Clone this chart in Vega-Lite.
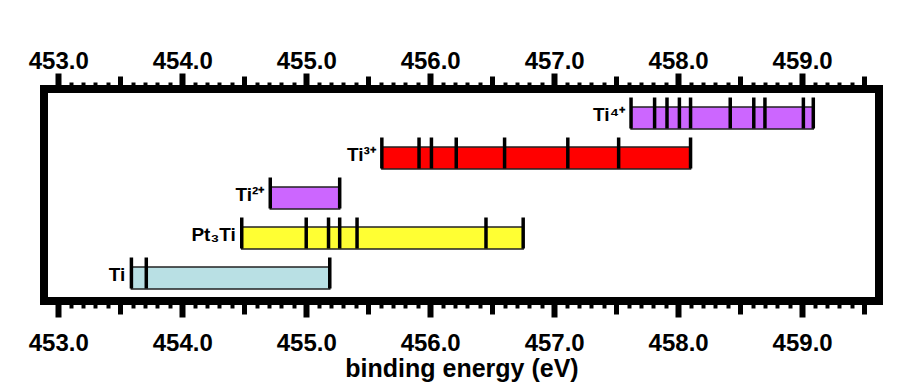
{
  "$schema": "https://vega.github.io/schema/vega-lite/v6.json",
  "autosize": "none",
  "width": 835,
  "height": 212,
  "padding": {"left": 44, "top": 89, "right": 44, "bottom": 82},
  "background": "white",
  "config": {
    "font": "Liberation Sans",
    "view": {"stroke": "black", "strokeWidth": 8},
    "axis": {"grid": false, "domain": false}
  },
  "datasets": {
    "bars": [
      {"species": "Ti⁴⁺", "start": 457.62, "end": 459.09},
      {"species": "Ti³⁺", "start": 455.61, "end": 458.10},
      {"species": "Ti²⁺", "start": 454.71, "end": 455.27},
      {"species": "Pt₃Ti", "start": 454.48, "end": 456.75},
      {"species": "Ti", "start": 453.59, "end": 455.19}
    ],
    "ticks": [
      {"species": "Ti⁴⁺", "energy": 457.62},
      {"species": "Ti⁴⁺", "energy": 457.81},
      {"species": "Ti⁴⁺", "energy": 457.91},
      {"species": "Ti⁴⁺", "energy": 458.01},
      {"species": "Ti⁴⁺", "energy": 458.10},
      {"species": "Ti⁴⁺", "energy": 458.42},
      {"species": "Ti⁴⁺", "energy": 458.61},
      {"species": "Ti⁴⁺", "energy": 458.70},
      {"species": "Ti⁴⁺", "energy": 459.01},
      {"species": "Ti⁴⁺", "energy": 459.09},
      {"species": "Ti³⁺", "energy": 455.61},
      {"species": "Ti³⁺", "energy": 455.91},
      {"species": "Ti³⁺", "energy": 456.01},
      {"species": "Ti³⁺", "energy": 456.21},
      {"species": "Ti³⁺", "energy": 456.60},
      {"species": "Ti³⁺", "energy": 457.11},
      {"species": "Ti³⁺", "energy": 457.52},
      {"species": "Ti³⁺", "energy": 458.10},
      {"species": "Ti²⁺", "energy": 454.71},
      {"species": "Ti²⁺", "energy": 455.27},
      {"species": "Pt₃Ti", "energy": 454.48},
      {"species": "Pt₃Ti", "energy": 455.00},
      {"species": "Pt₃Ti", "energy": 455.18},
      {"species": "Pt₃Ti", "energy": 455.27},
      {"species": "Pt₃Ti", "energy": 455.41},
      {"species": "Pt₃Ti", "energy": 456.45},
      {"species": "Pt₃Ti", "energy": 456.75},
      {"species": "Ti", "energy": 453.59},
      {"species": "Ti", "energy": 453.71},
      {"species": "Ti", "energy": 455.19}
    ]
  },
  "resolve": {"axis": {"x": "independent"}},
  "layer": [
    {
      "data": {"name": "bars"},
      "mark": {"type": "bar", "height": 22, "stroke": "#222222", "strokeWidth": 1.5},
      "encoding": {
        "x": {
          "field": "start", "type": "quantitative",
          "scale": {"domain": [452.885, 459.62], "nice": false, "zero": false},
          "axis": {
            "orient": "bottom",
            "title": "binding energy (eV)",
            "titleFont": "Liberation Sans", "titleFontSize": 25, "titleFontWeight": "bold", "titleColor": "black",
            "titleBaseline": "alphabetic", "titleY": 75,
            "values": [453,453.1,453.2,453.3,453.4,453.5,453.6,453.7,453.8,453.9,454,454.1,454.2,454.3,454.4,454.5,454.6,454.7,454.8,454.9,455,455.1,455.2,455.3,455.4,455.5,455.6,455.7,455.8,455.9,456,456.1,456.2,456.3,456.4,456.5,456.6,456.7,456.8,456.9,457,457.1,457.2,457.3,457.4,457.5,457.6,457.7,457.8,457.9,458,458.1,458.2,458.3,458.4,458.5,458.6,458.7,458.8,458.9,459,459.1,459.2,459.3,459.4,459.5],
            "labelExpr": "abs(datum.value - round(datum.value)) < 0.001 ? format(datum.value, '.1f') : ''",
            "labelFont": "Liberation Sans", "labelFontSize": 24, "labelFontWeight": "bold", "labelColor": "black",
            "labelBaseline": "alphabetic", "labelPadding": 33, "labelOverlap": false, "labelFlush": false, "labelBound": false,
            "tickColor": "black",
            "tickSize": {"condition": [
              {"test": "abs(datum.value - round(datum.value)) < 0.001", "value": 16},
              {"test": "abs(datum.value*2 - round(datum.value*2)) < 0.001", "value": 13}
            ], "value": 7},
            "tickWidth": {"condition": [
              {"test": "abs(datum.value - round(datum.value)) < 0.001", "value": 6},
              {"test": "abs(datum.value*2 - round(datum.value*2)) < 0.001", "value": 5}
            ], "value": 4}
          }
        },
        "x2": {"field": "end"},
        "y": {
          "field": "species", "type": "nominal",
          "scale": {"domain": ["Ti⁴⁺", "Ti³⁺", "Ti²⁺", "Pt₃Ti", "Ti"], "paddingInner": 0, "paddingOuter": 0.15, "align": 0.75},
          "axis": null
        },
        "color": {
          "field": "species", "type": "nominal",
          "scale": {"domain": ["Ti⁴⁺", "Ti³⁺", "Ti²⁺", "Pt₃Ti", "Ti"], "range": ["#CC66FF", "#FF0000", "#CC66FF", "#FFFF33", "#B9E0E4"]},
          "legend": null
        }
      }
    },
    {
      "data": {"name": "ticks"},
      "mark": {"type": "tick", "size": 31, "thickness": 3.5, "color": "black", "yOffset": -5, "opacity": 1},
      "encoding": {
        "x": {
          "field": "energy", "type": "quantitative",
          "axis": {
            "orient": "top",
            "title": null,
            "values": [453,453.1,453.2,453.3,453.4,453.5,453.6,453.7,453.8,453.9,454,454.1,454.2,454.3,454.4,454.5,454.6,454.7,454.8,454.9,455,455.1,455.2,455.3,455.4,455.5,455.6,455.7,455.8,455.9,456,456.1,456.2,456.3,456.4,456.5,456.6,456.7,456.8,456.9,457,457.1,457.2,457.3,457.4,457.5,457.6,457.7,457.8,457.9,458,458.1,458.2,458.3,458.4,458.5,458.6,458.7,458.8,458.9,459,459.1,459.2,459.3,459.4,459.5],
            "labelExpr": "abs(datum.value - round(datum.value)) < 0.001 ? format(datum.value, '.1f') : ''",
            "labelFont": "Liberation Sans", "labelFontSize": 24, "labelFontWeight": "bold", "labelColor": "black",
            "labelBaseline": "alphabetic", "labelPadding": 5, "labelOverlap": false, "labelFlush": false, "labelBound": false,
            "tickColor": "black",
            "tickSize": {"condition": [
              {"test": "abs(datum.value - round(datum.value)) < 0.001", "value": 16},
              {"test": "abs(datum.value*2 - round(datum.value*2)) < 0.001", "value": 13}
            ], "value": 7},
            "tickWidth": {"condition": [
              {"test": "abs(datum.value - round(datum.value)) < 0.001", "value": 6},
              {"test": "abs(datum.value*2 - round(datum.value*2)) < 0.001", "value": 5}
            ], "value": 4}
          }
        },
        "y": {"field": "species", "type": "nominal", "axis": null}
      }
    },
    {
      "data": {"name": "bars"},
      "mark": {"type": "text", "align": "right", "baseline": "middle", "dx": -6, "dy": -3, "fontSize": 19, "fontWeight": "bold", "color": "black", "font": "Liberation Sans"},
      "encoding": {
        "x": {"field": "start", "type": "quantitative", "axis": null},
        "y": {"field": "species", "type": "nominal", "axis": null},
        "text": {"field": "species"}
      }
    }
  ]
}
